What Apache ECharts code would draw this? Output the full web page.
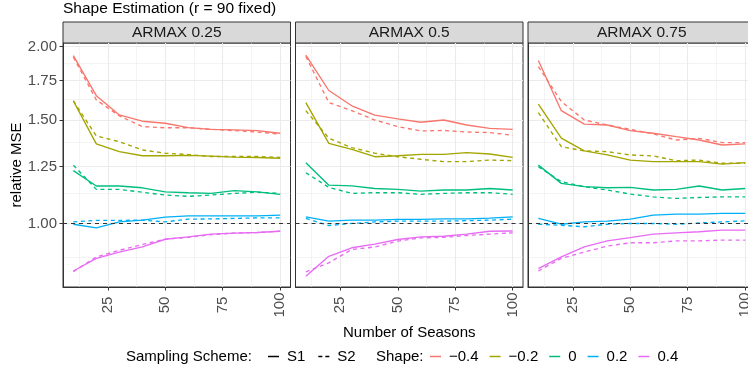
<!DOCTYPE html>
<html>
<head>
<meta charset="utf-8">
<script src="https://cdn.jsdelivr.net/npm/echarts@6/dist/echarts.min.js"></script>
<style>
  html, body { margin: 0; padding: 0; background: #ffffff; }
  #chart { width: 748px; height: 375px; }
</style>
</head>
<body>
<div id="chart"></div>
<script>
// Number of seasons on the x axis
const seasons = [10, 20, 30, 40, 50, 60, 70, 80, 90, 100];
const facets = ['ARMAX 0.25', 'ARMAX 0.5', 'ARMAX 0.75'];
const shapes = ['\u22120.4', '\u22120.2', '0', '0.2', '0.4'];
const schemes = ['S1', 'S2'];
const yTicks = [1.00, 1.25, 1.50, 1.75, 2.00];
const yMinor = [0.875, 1.125, 1.375, 1.625, 1.875];
const xTicks = [25, 50, 75, 100];
const xMinor = [12.5, 37.5, 62.5, 87.5];

// relative MSE, one row per shape value (-0.4, -0.2, 0, 0.2, 0.4)
const armax025_S1 = [
  [1.930, 1.650, 1.530, 1.493, 1.481, 1.456, 1.446, 1.443, 1.439, 1.424],
  [1.617, 1.366, 1.325, 1.304, 1.304, 1.306, 1.302, 1.297, 1.295, 1.291],
  [1.230, 1.158, 1.158, 1.150, 1.132, 1.128, 1.125, 1.137, 1.132, 1.121],
  [0.997, 0.983, 1.006, 1.013, 1.025, 1.030, 1.030, 1.030, 1.030, 1.033],
  [0.830, 0.872, 0.894, 0.912, 0.940, 0.949, 0.959, 0.963, 0.965, 0.970]
];
const armax025_S2 = [
  [1.920, 1.623, 1.525, 1.462, 1.455, 1.455, 1.446, 1.439, 1.431, 1.419],
  [1.617, 1.409, 1.378, 1.334, 1.317, 1.310, 1.300, 1.300, 1.300, 1.296],
  [1.257, 1.143, 1.143, 1.130, 1.118, 1.112, 1.118, 1.125, 1.130, 1.125],
  [1.006, 1.012, 1.012, 1.013, 1.006, 1.017, 1.018, 1.020, 1.022, 1.022],
  [0.828, 0.877, 0.900, 0.921, 0.940, 0.947, 0.957, 0.963, 0.965, 0.970]
];
const armax05_S1 = [
  [1.935, 1.684, 1.586, 1.529, 1.507, 1.487, 1.500, 1.471, 1.452, 1.446],
  [1.606, 1.369, 1.337, 1.299, 1.304, 1.311, 1.311, 1.320, 1.313, 1.296],
  [1.269, 1.162, 1.159, 1.147, 1.143, 1.135, 1.140, 1.140, 1.147, 1.140],
  [1.026, 1.009, 1.013, 1.013, 1.016, 1.016, 1.018, 1.018, 1.021, 1.026],
  [0.813, 0.879, 0.909, 0.922, 0.939, 0.949, 0.951, 0.959, 0.970, 0.971]
];
const armax05_S2 = [
  [1.925, 1.606, 1.556, 1.500, 1.462, 1.437, 1.440, 1.431, 1.428, 1.413],
  [1.556, 1.397, 1.346, 1.317, 1.299, 1.286, 1.274, 1.274, 1.282, 1.279],
  [1.220, 1.152, 1.125, 1.128, 1.128, 1.121, 1.125, 1.128, 1.128, 1.121],
  [1.020, 0.992, 1.000, 1.006, 1.009, 1.009, 1.009, 1.011, 1.013, 1.017],
  [0.827, 0.857, 0.903, 0.912, 0.933, 0.945, 0.947, 0.954, 0.959, 0.964]
];
const armax075_S1 = [
  [1.894, 1.556, 1.476, 1.471, 1.439, 1.424, 1.405, 1.387, 1.360, 1.366],
  [1.596, 1.397, 1.329, 1.308, 1.282, 1.274, 1.274, 1.274, 1.262, 1.269],
  [1.257, 1.170, 1.155, 1.150, 1.152, 1.140, 1.143, 1.158, 1.140, 1.147],
  [1.020, 0.997, 1.006, 1.009, 1.017, 1.033, 1.037, 1.037, 1.040, 1.040],
  [0.838, 0.877, 0.912, 0.934, 0.946, 0.959, 0.964, 0.968, 0.974, 0.974]
];
const armax075_S2 = [
  [1.850, 1.613, 1.500, 1.471, 1.446, 1.420, 1.387, 1.396, 1.373, 1.373],
  [1.544, 1.351, 1.329, 1.325, 1.308, 1.303, 1.279, 1.282, 1.266, 1.266],
  [1.249, 1.178, 1.155, 1.140, 1.122, 1.110, 1.103, 1.107, 1.110, 1.110],
  [0.997, 0.993, 0.987, 0.997, 1.000, 1.000, 0.997, 1.002, 1.006, 1.010],
  [0.830, 0.872, 0.894, 0.915, 0.927, 0.927, 0.934, 0.934, 0.937, 0.937]
];

const panelValues = [
  [armax025_S1, armax025_S2],
  [armax05_S1, armax05_S2],
  [armax075_S1, armax075_S2]
];

const FONT = "'Liberation Sans', Arial, Helvetica, sans-serif";
const shapeColors = ['#F8766D', '#A3A500', '#00BF7D', '#00B0F6', '#E76BF3'];
const dashPattern = [4, 3.5];
const gridColor = '#EBEBEB';
const frameColor = '#333333';

// panel layout
const panelTop = 43;
const panelHeight = 244;
const panelLefts = [63, 295.5, 528];
const panelWidth = 227.5;
const stripTop = 22;
const stripHeight = 21;
const xRange = [5.5, 104.5];
const yRange = [0.7795, 2.0286];

const chart = echarts.init(document.getElementById('chart'), null, { renderer: 'canvas' });

const grids = panelLefts.map(left => ({
  left: left, top: panelTop, width: panelWidth, height: panelHeight,
  show: true, borderColor: frameColor, borderWidth: 1, backgroundColor: '#ffffff',
  containLabel: false, outerBoundsMode: 'none'
}));

const xAxes = [];
const yAxes = [];
panelLefts.forEach((_, f) => {
  xAxes.push({
    type: 'value', gridIndex: f, min: xRange[0], max: xRange[1], position: 'bottom',
    axisLine: { show: true, onZero: false, lineStyle: { color: frameColor, width: 1 } },
    axisTick: { show: true, customValues: xTicks, length: 3.5, lineStyle: { color: frameColor, width: 1 } },
    axisLabel: {
      show: true, customValues: xTicks, rotate: 90, align: 'center', verticalAlign: 'middle',
      margin: 18, color: '#4D4D4D', fontSize: 15, fontFamily: FONT,
      formatter: v => String(v)
    },
    splitLine: { show: true, lineStyle: { color: gridColor, width: 1.1 } },
    name: f === 1 ? 'Number of Seasons' : '',
    nameLocation: 'middle', nameGap: 35,
    nameTextStyle: { color: '#000000', fontSize: 15, fontFamily: FONT }
  });
  xAxes.push({
    type: 'value', gridIndex: f, min: xRange[0], max: xRange[1], position: 'top',
    axisLine: { show: false }, axisLabel: { show: false },
    axisTick: { show: false, customValues: xMinor },
    splitLine: { show: true, lineStyle: { color: gridColor, width: 0.55 } }
  });
  yAxes.push({
    type: 'log', gridIndex: f, min: yRange[0], max: yRange[1], position: 'left',
    axisLine: { show: true, onZero: false, lineStyle: { color: frameColor, width: 1 } },
    axisTick: { show: f === 0, customValues: yTicks, length: 3.5, lineStyle: { color: frameColor, width: 1 } },
    axisLabel: {
      show: f === 0, customValues: yTicks, margin: 6, color: '#4D4D4D', fontSize: 15, fontFamily: FONT,
      formatter: v => Number(v).toFixed(2)
    },
    splitLine: { show: true, lineStyle: { color: gridColor, width: 1.1 } },
    name: f === 0 ? 'relative MSE' : '',
    nameLocation: 'middle', nameGap: 33,
    nameTextStyle: { color: '#000000', fontSize: 15, fontFamily: FONT }
  });
  yAxes.push({
    type: 'log', gridIndex: f, min: yRange[0], max: yRange[1], position: 'right',
    axisLine: { show: false }, axisLabel: { show: false },
    axisTick: { show: false, customValues: yMinor },
    splitLine: { show: true, lineStyle: { color: gridColor, width: 0.55 } }
  });
});

const series = [];
panelValues.forEach((bySchema, f) => {
  bySchema.forEach((rows, s) => {
    rows.forEach((vals, k) => {
      const isLast = s === bySchema.length - 1 && k === rows.length - 1;
      const item = {
        type: 'line', name: shapes[k],
        xAxisIndex: f * 2, yAxisIndex: f * 2,
        data: seasons.map((x, i) => [x, vals[i]]),
        symbol: 'none', silent: true, animation: false,
        itemStyle: { color: shapeColors[k] },
        lineStyle: { color: shapeColors[k], width: 1.35, type: s === 0 ? 'solid' : dashPattern }
      };
      if (isLast) {
        // reference line at relative MSE = 1
        item.markLine = {
          silent: true, symbol: 'none', animation: false,
          label: { show: false },
          lineStyle: { color: frameColor, width: 1, type: [4, 4] },
          data: [{ yAxis: 1 }]
        };
      }
      series.push(item);
    });
  });
});
// legend entries for the sampling schemes
schemes.forEach((name, s) => {
  series.push({
    type: 'line', name: name, xAxisIndex: 0, yAxisIndex: 0, data: [],
    symbol: 'none', silent: true, animation: false,
    itemStyle: { color: '#000000' },
    lineStyle: { color: '#000000', width: 1.35, type: s === 0 ? 'solid' : dashPattern }
  });
});

const solidIcon = 'path://M0,0h11v1.5h-11z';
const dashIcon = 'path://M0,0h4v1.5h-4zM7,0h4v1.5h-4z';
const legendText = { fontSize: 15, color: '#000000', fontFamily: FONT, padding: [0, 0, 0, 3] };

const graphics = [];
facets.forEach((label, f) => {
  graphics.push({
    type: 'rect', silent: true,
    shape: { x: panelLefts[f], y: stripTop, width: panelWidth, height: stripHeight },
    style: { fill: '#D9D9D9', stroke: frameColor, lineWidth: 1 }
  });
  graphics.push({
    type: 'text', silent: true,
    x: panelLefts[f] + panelWidth / 2, y: stripTop + stripHeight / 2 + 0.5,
    style: { text: label, fill: '#1A1A1A', font: '15.5px ' + FONT, align: 'center', verticalAlign: 'middle' }
  });
});
graphics.push({
  type: 'text', silent: true, x: panelLefts[0], y: 9,
  style: { text: 'Shape Estimation (r = 90 fixed)', fill: '#000000', font: '15.5px ' + FONT, align: 'left', verticalAlign: 'middle' }
});
graphics.push({
  type: 'text', silent: true, x: 126, y: 357,
  style: { text: 'Sampling Scheme:', fill: '#000000', font: '15px ' + FONT, align: 'left', verticalAlign: 'middle' }
});
graphics.push({
  type: 'text', silent: true, x: 376, y: 357,
  style: { text: 'Shape:', fill: '#000000', font: '15px ' + FONT, align: 'left', verticalAlign: 'middle' }
});

chart.setOption({
  animation: false,
  backgroundColor: '#ffffff',
  grid: grids,
  xAxis: xAxes,
  yAxis: yAxes,
  legend: [
    {
      data: [{ name: 'S1', icon: solidIcon }, { name: 'S2', icon: dashIcon }],
      left: 268, top: 349, orient: 'horizontal', padding: 0,
      itemWidth: 11, itemHeight: 1.5, itemGap: 13, selectedMode: false,
      textStyle: legendText
    },
    {
      data: shapes.map(n => ({ name: n, icon: solidIcon })),
      left: 430, top: 349, orient: 'horizontal', padding: 0,
      itemWidth: 11, itemHeight: 1.5, itemGap: 11, selectedMode: false,
      textStyle: legendText
    }
  ],
  graphic: graphics,
  series: series
});
</script>
</body>
</html>
